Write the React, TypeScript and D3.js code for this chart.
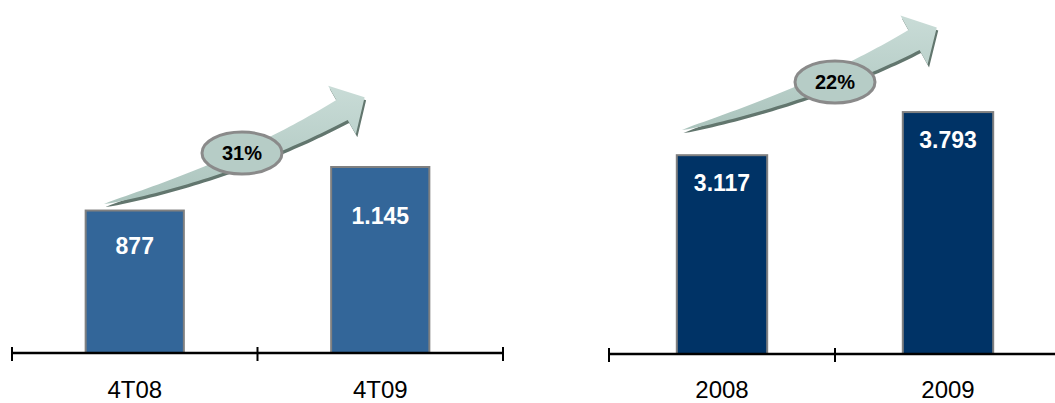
import React from "react";
import * as d3 from "d3";

// ---- data ----
const leftCategories = ["4T08", "4T09"];
const leftValues = [877, 1145];
const leftValueLabels = ["877", "1.145"];
const leftGrowth = "31%";

const rightCategories = ["2008", "2009"];
const rightValues = [3117, 3793];
const rightValueLabels = ["3.117", "3.793"];
const rightGrowth = "22%";

// ---- layout / style ----
const W = 1055;
const H = 403;
const FONT = "'Liberation Sans', Arial, Helvetica, sans-serif";

type Pt = [number, number];

interface Panel {
  categories: string[];
  values: number[];
  labels: string[];
  growth: string;
  xRange: [number, number];
  baseline: number;
  yMax: number;
  fill: string;
  labelDy: number[];
  arrow: { p0: Pt; p1: Pt; p2: Pt };
  ellipse: Pt;
}

const panels: Panel[] = [
  {
    categories: leftCategories,
    values: leftValues,
    labels: leftValueLabels,
    growth: leftGrowth,
    xRange: [12, 503],
    baseline: 353,
    yMax: 2173,
    fill: "#336699",
    labelDy: [43, 57],
    arrow: { p0: [104, 204], p1: [240, 168], p2: [342, 110] },
    ellipse: [242, 153],
  },
  {
    categories: rightCategories,
    values: rightValues,
    labels: rightValueLabels,
    growth: rightGrowth,
    xRange: [609, 1061],
    baseline: 354,
    yMax: 5550,
    fill: "#003366",
    labelDy: [36, 36],
    arrow: { p0: [682, 130], p1: [820, 92], p2: [914, 40] },
    ellipse: [835, 82],
  },
];

function arrowPath(p0: Pt, p1: Pt, p2: Pt, shaftHalf: number, headHalf: number, headLen: number): string {
  const N = 48;
  const upper: Pt[] = [];
  const lower: Pt[] = [];
  let lastN: Pt = [0, 0];
  let lastD: Pt = [1, 0];
  for (let i = 0; i <= N; i++) {
    const t = i / N;
    const a = (1 - t) * (1 - t), b = 2 * (1 - t) * t, c = t * t;
    const cx = a * p0[0] + b * p1[0] + c * p2[0];
    const cy = a * p0[1] + b * p1[1] + c * p2[1];
    let dx = 2 * (1 - t) * (p1[0] - p0[0]) + 2 * t * (p2[0] - p1[0]);
    let dy = 2 * (1 - t) * (p1[1] - p0[1]) + 2 * t * (p2[1] - p1[1]);
    const len = Math.hypot(dx, dy);
    dx /= len; dy /= len;
    const nx = dy, ny = -dx;
    const w = shaftHalf * Math.pow(t, 0.7);
    upper.push([cx + nx * w, cy + ny * w]);
    lower.push([cx - nx * w, cy - ny * w]);
    lastN = [nx, ny];
    lastD = [dx, dy];
  }
  const headTop: Pt = [p2[0] + lastN[0] * headHalf, p2[1] + lastN[1] * headHalf];
  const tip: Pt = [p2[0] + lastD[0] * headLen, p2[1] + lastD[1] * headLen];
  const headBot: Pt = [p2[0] - lastN[0] * headHalf, p2[1] - lastN[1] * headHalf];
  const pts: Pt[] = [...upper, headTop, tip, headBot, ...lower.reverse()];
  return (d3.line()(pts as [number, number][]) || "") + "Z";
}

function PanelChart({ p, idx }: { p: Panel; idx: number }) {
  const x = d3
    .scaleBand<string>()
    .domain(p.categories)
    .range(p.xRange)
    .paddingInner(0.6)
    .paddingOuter(0.3);
  const y = d3.scaleLinear().domain([0, p.yMax]).range([p.baseline, 0]);
  const step = x.step();
  const tickXs = [p.xRange[0], ...p.categories.map((c) => (x(c) as number) - step * 0.3 + step)];
  const ap = arrowPath(p.arrow.p0, p.arrow.p1, p.arrow.p2, 11.5, 28, 26);

  return (
    <g>
      {/* bars */}
      {p.categories.map((c, i) => (
        <rect
          key={c}
          x={x(c)}
          y={y(p.values[i])}
          width={x.bandwidth()}
          height={p.baseline - y(p.values[i])}
          fill={p.fill}
          stroke="#808080"
          strokeWidth={2}
        />
      ))}
      {/* value labels */}
      {p.categories.map((c, i) => (
        <text
          key={c + "v"}
          x={(x(c) as number) + x.bandwidth() / 2}
          y={y(p.values[i]) + p.labelDy[i]}
          textAnchor="middle"
          fill="#ffffff"
          fontFamily={FONT}
          fontWeight="bold"
          fontSize={23}
        >
          {p.labels[i]}
        </text>
      ))}
      {/* axis */}
      <line x1={p.xRange[0]} x2={p.xRange[1]} y1={p.baseline} y2={p.baseline} stroke="#000" strokeWidth={2.5} />
      {tickXs.map((tx, i) => (
        <line key={i} x1={tx} x2={tx} y1={p.baseline - 6} y2={p.baseline + 8} stroke="#000" strokeWidth={2} />
      ))}
      {p.categories.map((c) => (
        <text
          key={c + "c"}
          x={(x(c) as number) + x.bandwidth() / 2}
          y={398}
          textAnchor="middle"
          fill="#000"
          fontFamily={FONT}
          fontSize={24}
        >
          {c}
        </text>
      ))}
      {/* growth arrow */}
      <path d={ap} fill="#62766e" transform="translate(1.5,3)" />
      <path d={ap} fill={`url(#arrowGrad${idx})`} />
      <ellipse cx={p.ellipse[0]} cy={p.ellipse[1]} rx={40} ry={21} fill="#b6ccc6" stroke="#8a8a8a" strokeWidth={3} />
      <text
        x={p.ellipse[0]}
        y={p.ellipse[1] + 7}
        textAnchor="middle"
        fill="#000"
        fontFamily={FONT}
        fontWeight="bold"
        fontSize={20}
      >
        {p.growth}
      </text>
    </g>
  );
}

export default function App() {
  return (
    <svg
      width={W}
      height={H}
      viewBox={`0 0 ${W} ${H}`}
      style={{ position: "absolute", left: 0, top: 0, display: "block", background: "#fff" }}
    >
      <defs>
        {panels.map((_, i) => (
          <linearGradient key={i} id={`arrowGrad${i}`} x1="0" y1="0" x2="0" y2="1">
            <stop offset="0%" stopColor="#c9dcd7" />
            <stop offset="100%" stopColor="#abc4bd" />
          </linearGradient>
        ))}
      </defs>
      <rect x={0} y={0} width={W} height={H} fill="#fff" />
      {panels.map((p, i) => (
        <PanelChart key={i} p={p} idx={i} />
      ))}
    </svg>
  );
}
